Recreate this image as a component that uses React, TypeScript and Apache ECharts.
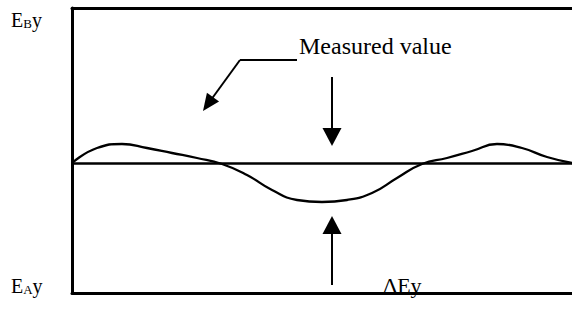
import React, { useEffect, useRef } from "react";
import * as echarts from "echarts";

// Curve samples (x along the bar, y deviation from the reference line)
const curveX = [0, 25, 50, 75, 100, 125, 150, 175, 200, 225, 250, 275, 300, 325, 350, 375, 400, 425, 450, 475, 500];
const curveY = [0, 15, 19, 15, 10, 5, -1, -12, -27, -37, -39, -37, -30, -15, -1, 5, 12, 19, 15, 6, 0];

// Annotation arrows in data units: [x1, y1, x2, y2]
const downArrow = [260, 86, 260, 26];
const upArrow = [260, -122, 260, -62];
const pointerElbow = [225, 103, 168, 103];
const pointerDiag = [168, 103, 136, 59];

const xMin = 0;
const xMax = 500;
const yMin = -130;
const yMax = 155;

const labelTop = "B";
const labelBottom = "A";
const measuredLabel = "Measured value";
const deltaLabel = "ΔEy";

const FONT = "Liberation Serif";

export default function App() {
  const ref = useRef<HTMLDivElement>(null);
  useEffect(() => {
    if (!ref.current) return;
    const chart = echarts.init(ref.current, undefined, { renderer: "svg" });
    const lineStyleArrow = { color: "#000", width: 2, type: "solid" as const };
    const seg = (a: number[], sym: string[], size: any) => [
      { coord: [a[0], a[1]], symbol: sym[0], symbolSize: size, lineStyle: lineStyleArrow },
      { coord: [a[2], a[3]], symbol: sym[1], symbolSize: size, lineStyle: lineStyleArrow },
    ];
    const axisLine = { show: true, onZero: false, lineStyle: { color: "#000", width: 3 } };
    const hidden = { axisTick: { show: false }, axisLabel: { show: false }, splitLine: { show: false } };
    const richStyle = {
      e: { fontFamily: FONT, fontSize: 20, fill: "#000", verticalAlign: "bottom", lineHeight: 22 },
      s: { fontFamily: FONT, fontSize: 13, fill: "#000", verticalAlign: "bottom", lineHeight: 22 },
    };
    const option: any = {
      animation: false,
      backgroundColor: "#fff",
      grid: { left: 72, right: 0, top: 8, bottom: 27 },
      xAxis: [
        { type: "value", min: xMin, max: xMax, position: "bottom", axisLine, ...hidden },
        { type: "value", min: xMin, max: xMax, position: "top", axisLine, ...hidden },
      ],
      yAxis: { type: "value", min: yMin, max: yMax, axisLine, ...hidden },
      series: [
        {
          type: "line",
          data: curveX.map((x, i) => [x, curveY[i]]),
          smooth: 0.5,
          symbol: "none",
          lineStyle: { color: "#000", width: 2.3 },
          markLine: {
            silent: true,
            symbol: ["none", "none"],
            label: { show: false },
            lineStyle: { color: "#000", width: 2.6, type: "solid" },
            data: [
              { yAxis: 0, lineStyle: { color: "#000", width: 2.6, type: "solid" } },
              seg(downArrow, ["none", "triangle"], [19, 18]),
              seg(upArrow, ["none", "triangle"], [19, 18]),
              seg(pointerElbow, ["none", "none"], 1),
              seg(pointerDiag, ["none", "triangle"], [15, 17]),
            ],
          },
        },
      ],
      graphic: [
        { type: "text", left: 11, top: 10, style: { text: `{e|E}{s|${labelTop}}{e|y}`, rich: richStyle } },
        { type: "text", left: 11, top: 276, style: { text: `{e|E}{s|${labelBottom}}{e|y}`, rich: richStyle } },
        {
          type: "text",
          x: 299,
          y: 46,
          style: { text: measuredLabel, fontFamily: FONT, fontSize: 24, fill: "#000", verticalAlign: "middle", align: "left" },
        },
        {
          type: "text",
          x: 383,
          y: 285,
          style: { text: deltaLabel, fontFamily: FONT, fontSize: 22, fill: "#000", verticalAlign: "middle", align: "left" },
        },
      ],
    };
    chart.setOption(option);
    return () => chart.dispose();
  }, []);
  return <div ref={ref} style={{ position: "fixed", left: 0, top: 0, width: 572, height: 320, background: "#fff" }} />;
}
